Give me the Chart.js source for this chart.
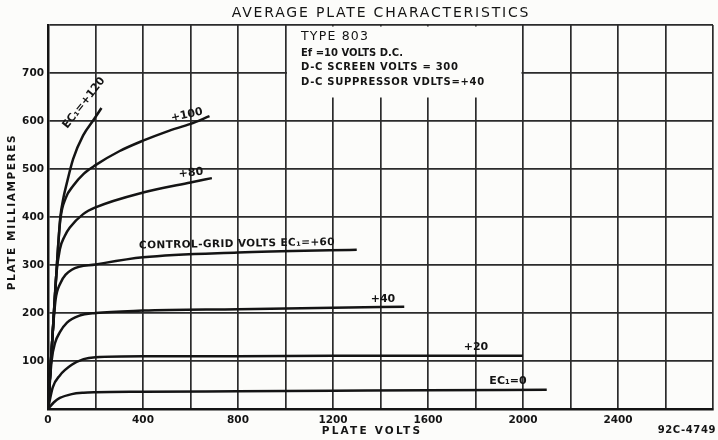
<!DOCTYPE html>
<html>
<head>
<meta charset="utf-8">
<script src="https://cdn.jsdelivr.net/npm/chart.js@4"></script>
<style>
  html, body { margin: 0; padding: 0; background: #fcfcfa; }
  #wrap { width: 718px; height: 440px; }
</style>
</head>
<body>
<div id="wrap"><canvas id="plate" width="718" height="440"></canvas></div>
<script>
// ===== Data (plate volts / plate mA) =====
const ec0Volts = [0, 25, 50, 100, 150, 200, 400, 800, 1200, 1600, 2100];
const ec0Ma = [0, 14, 23, 31, 34, 35, 36, 37, 38, 39, 40];

const ec20Volts = [0, 20, 50, 100, 150, 200, 400, 800, 1200, 1600, 2000];
const ec20Ma = [0, 45, 70, 92, 104, 108, 110, 110, 111, 111, 111];

const ec40Volts = [0, 15, 30, 50, 80, 130, 200, 400, 800, 1200, 1500];
const ec40Ma = [0, 100, 138, 160, 180, 194, 200, 205, 208, 211, 213];

const ec60Volts = [0, 20, 32, 50, 100, 200, 400, 800, 1300];
const ec60Ma = [0, 160, 228, 260, 290, 301, 316, 326, 332];

const ec80Volts = [0, 20, 35, 50, 70, 92, 148, 200, 400, 600, 690];
const ec80Ma = [0, 160, 280, 333, 360, 378, 406, 420, 451, 472, 481];

const ec100Volts = [0, 20, 40, 52, 75, 106, 150, 200, 300, 400, 500, 600, 680];
const ec100Ma = [0, 160, 320, 395, 440, 465, 490, 508, 537, 559, 578, 594, 610];

const ec120Volts = [0, 20, 40, 52, 65, 78, 106, 148, 190, 225];
const ec120Ma = [0, 160, 320, 400, 440, 468, 521, 570, 601, 627];

const xLabels = [0, 400, 800, 1200, 1600, 2000, 2400];
const yLabels = [100, 200, 300, 400, 500, 600, 700];

// ===== Helpers =====
const INK = "#141414";
const FONT = "'DejaVu Sans', sans-serif";

function curve(volts, ma) {
    return {
        data: volts.map((v, i) => ({ x: v, y: ma[i] })),
        borderColor: INK,
        borderWidth: 2.5,
        pointRadius: 0,
        cubicInterpolationMode: "monotone",
        fill: false
    };
}

function txt(ctx, s, x, y, size, opts = {}) {
    ctx.save();
    ctx.translate(x, y);
    if (opts.rot) ctx.rotate(opts.rot * Math.PI / 180);
    ctx.font = `${opts.weight || "bold"} ${size}px ${FONT}`;
    ctx.letterSpacing = opts.spacing || "0px";
    ctx.fillStyle = INK;
    ctx.textAlign = opts.align || "center";
    ctx.textBaseline = "middle";
    ctx.fillText(s, 0, 0);
    ctx.restore();
}

// ===== Annotations (info box, curve labels, titles) =====
const annotations = {
    id: "annotations",
    beforeDatasetsDraw(chart) {
        const { ctx, scales: { x, y } } = chart;
        // white box behind the tube data, hides grid between 1000 and 2000 V
        ctx.save();
        ctx.fillStyle = "#fcfcfa";
        const left = x.getPixelForValue(1000) + 1.5;
        const right = x.getPixelForValue(2000) - 1.5;
        ctx.fillRect(left, y.top + 1.5, right - left, 71);
        ctx.restore();
    },
    afterDraw(chart) {
        const ctx = chart.ctx;
        txt(ctx, "AVERAGE PLATE CHARACTERISTICS", 381, 13, 14, { weight: "normal", spacing: "1.8px" });
        txt(ctx, "PLATE MILLIAMPERES", 12, 212, 10.5, { rot: -90, spacing: "1.6px" });
        txt(ctx, "PLATE VOLTS", 372, 431, 10.5, { spacing: "2.2px" });
        txt(ctx, "92C-4749", 716, 430, 10, { align: "right", spacing: "0.6px" });

        txt(ctx, "TYPE 803", 301, 37, 12.5, { align: "left", weight: "normal", spacing: "1.2px" });
        txt(ctx, "Ef =10 VOLTS D.C.", 301, 53, 10, { align: "left" });
        txt(ctx, "D-C SCREEN VOLTS = 300", 301, 67, 10, { align: "left", spacing: "0.7px" });
        txt(ctx, "D-C SUPPRESSOR VDLTS=+40", 301, 82, 10, { align: "left", spacing: "0.7px" });

        txt(ctx, "EC₁=+120", 84, 103, 11, { rot: -52 });
        txt(ctx, "+100", 187, 115, 11, { rot: -12 });
        txt(ctx, "+80", 191, 173, 11, { rot: -6 });
        txt(ctx, "CONTROL-GRID VOLTS EC₁=+60", 237, 244, 10.5, { rot: -1, spacing: "0.4px" });
        txt(ctx, "+40", 383, 299, 11);
        txt(ctx, "+20", 476, 347, 11);
        txt(ctx, "EC₁=0", 508, 381, 11);
    }
};

// ===== Chart =====
const ctx = document.getElementById("plate").getContext("2d");
new Chart(ctx, {
    type: "line",
    data: {
        datasets: [
            curve(ec0Volts, ec0Ma),
            curve(ec20Volts, ec20Ma),
            curve(ec40Volts, ec40Ma),
            curve(ec60Volts, ec60Ma),
            curve(ec80Volts, ec80Ma),
            curve(ec100Volts, ec100Ma),
            curve(ec120Volts, ec120Ma)
        ]
    },
    options: {
        responsive: false,
        animation: false,
        layout: { padding: { top: 25, right: 1, left: 0, bottom: 0 } },
        plugins: { legend: { display: false }, tooltip: { enabled: false } },
        scales: {
            x: {
                type: "linear",
                min: 0,
                max: 2800,
                afterFit: (s) => { s.height = 31; },
                ticks: {
                    stepSize: 200,
                    autoSkip: false,
                    maxRotation: 0,
                    padding: 5,
                    color: INK,
                    font: { family: FONT, size: 10.5, weight: "bold" },
                    callback: (v) => xLabels.includes(v) ? String(v) : ""
                },
                grid: { color: "#2b2b2b", lineWidth: 1.7, drawTicks: false },
                border: { color: INK, width: 2.5 }
            },
            y: {
                min: 0,
                max: 800,
                afterFit: (s) => { s.width = 48; },
                ticks: {
                    stepSize: 100,
                    padding: 4,
                    color: INK,
                    font: { family: FONT, size: 10.5, weight: "bold" },
                    callback: (v) => yLabels.includes(v) ? String(v) : ""
                },
                grid: { color: "#2b2b2b", lineWidth: 1.7, drawTicks: false },
                border: { color: INK, width: 2.5 }
            }
        }
    },
    plugins: [annotations]
});
</script>
</body>
</html>
